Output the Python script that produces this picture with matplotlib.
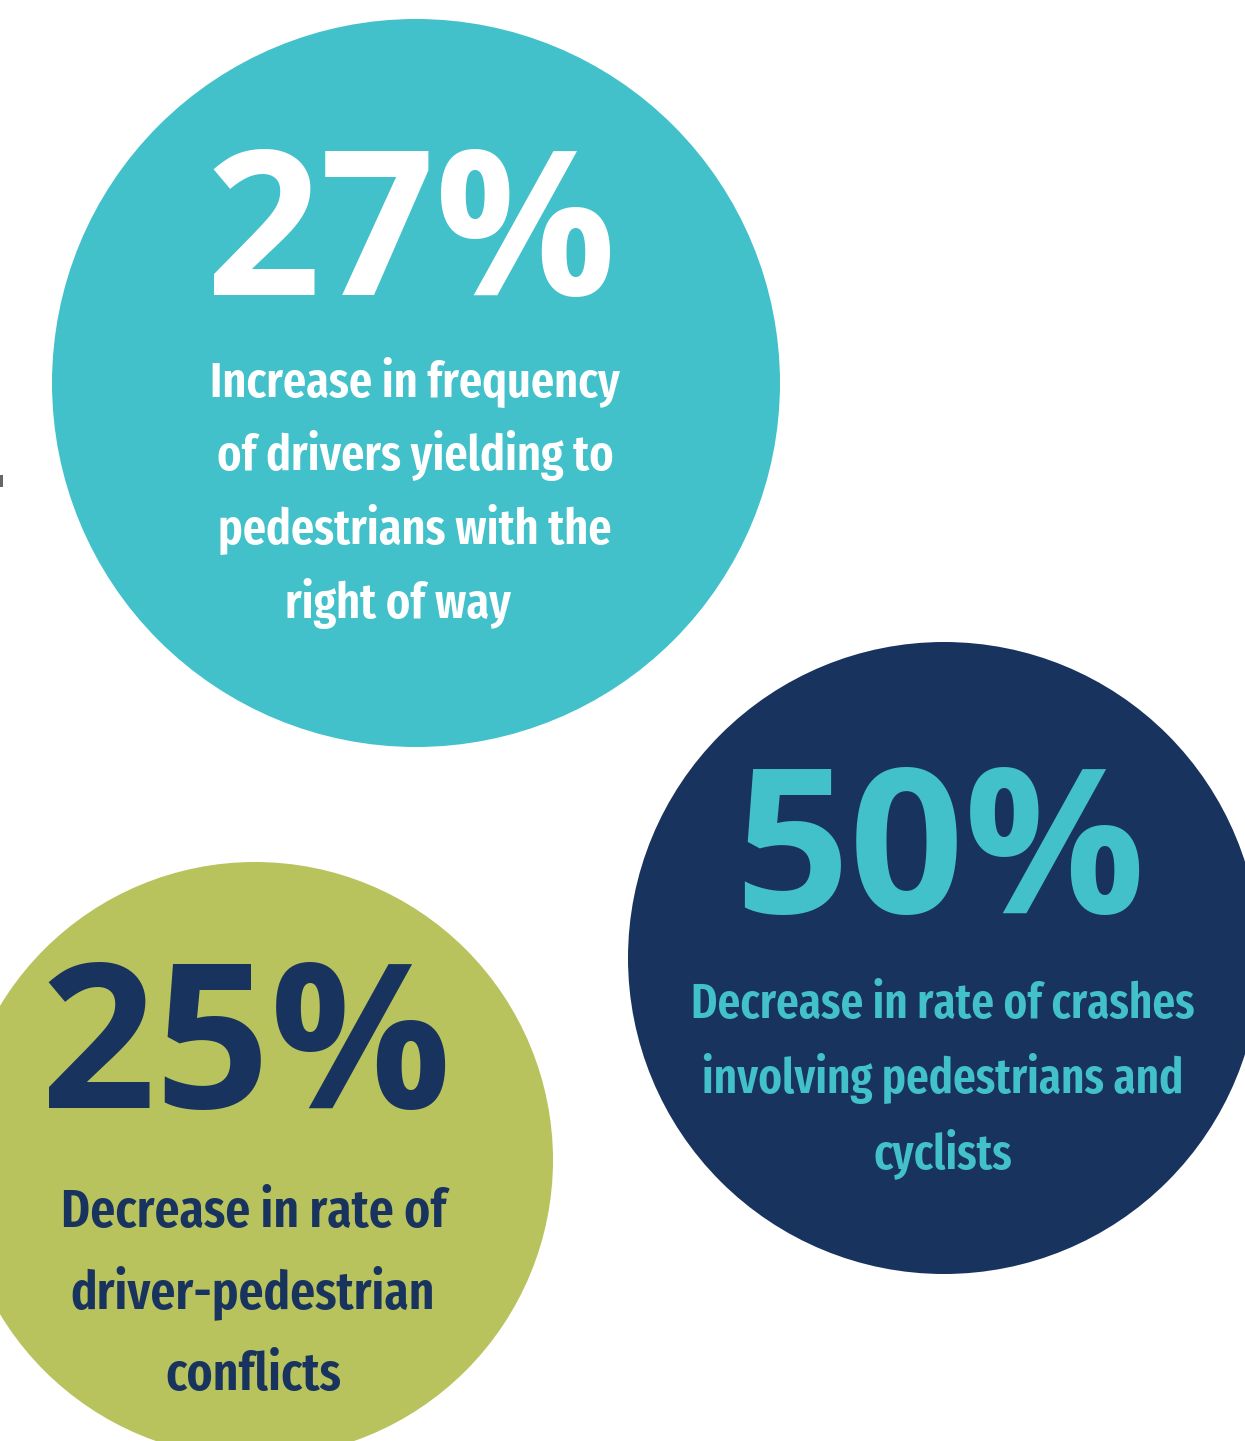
import matplotlib
matplotlib.use("Agg")
import matplotlib.pyplot as plt
from matplotlib.patches import Circle, Rectangle

# ---- data ----
stats = ["27%", "50%", "25%"]
descriptions = [
    ["Increase in frequency", "of drivers yielding to", "pedestrians with the", "right of way"],
    ["Decrease in rate of crashes", "involving pedestrians and", "cyclists"],
    ["Decrease in rate of", "driver-pedestrian", "conflicts"],
]

# ---- layout / style ----
W, H = 1245, 1441
TEAL = "#42C1CA"
NAVY = "#19335F"
GREEN = "#B8C35D"

circles = [  # (cx, cy, r, face)
    (416, 383, 364, TEAL),
    (944, 958, 316, NAVY),
    (255, 1160, 298, GREEN),
]
text_colors = [("white", "white"), (TEAL, TEAL), (NAVY, NAVY)]
num_pos = [(411, 295), (940, 913), (246, 1108)]
num_size = [145, 145, 145]
body_x = [[415, 415, 415, 398], [943, 943, 943], [254, 253, 253]]
body_y = [[397, 470, 544, 618], [1018, 1093, 1168], [1227, 1308, 1390]]
body_size = [36, 35, 38.5]

NUM_FONT = ["Open Sans", "DejaVu Sans"]
BODY_FONT = ["Fira Sans Extra Condensed", "Open Sans Condensed", "Liberation Sans", "DejaVu Sans"]

fig = plt.figure(figsize=(W / 100, H / 100), dpi=100)
ax = fig.add_axes([0, 0, 1, 1])
ax.set_xlim(0, W)
ax.set_ylim(H, 0)
ax.set_aspect("equal")
ax.axis("off")

ax.add_patch(Rectangle((0, 475), 2.5, 12, color="#666666", lw=0))

for i, (cx, cy, r, fc) in enumerate(circles):
    ax.add_patch(Circle((cx, cy), r, facecolor=fc, edgecolor="none"))
    nc, bc = text_colors[i]
    ax.text(num_pos[i][0], num_pos[i][1], stats[i], ha="center", va="baseline",
            fontsize=num_size[i], fontweight="bold", color=nc, family=NUM_FONT)
    for line, x, y in zip(descriptions[i], body_x[i], body_y[i]):
        ax.text(x, y, line, ha="center", va="baseline",
                fontsize=body_size[i], fontweight=600, color=bc, family=BODY_FONT)

fig.savefig("out.png", dpi=100, facecolor="white")
